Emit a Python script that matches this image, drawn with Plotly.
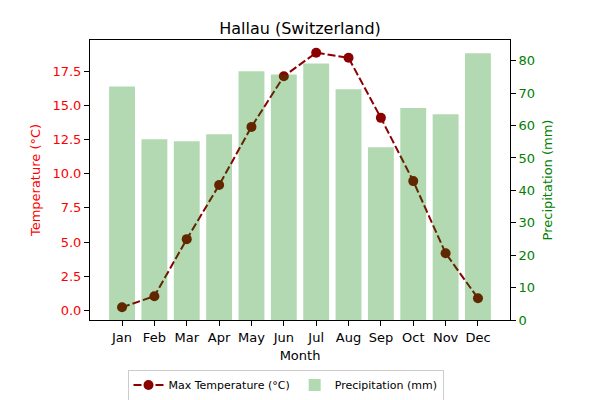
import plotly.graph_objects as go

months = ["Jan", "Feb", "Mar", "Apr", "May", "Jun",
          "Jul", "Aug", "Sep", "Oct", "Nov", "Dec"]
max_temp = [0.22, 1.03, 5.21, 9.17, 13.43, 17.14,
            18.86, 18.49, 14.09, 9.46, 4.18, 0.88]
precip = [72.1, 55.8, 55.2, 57.3, 76.8, 75.8,
          79.2, 71.2, 53.3, 65.4, 63.5, 82.3]

temp_ticks = [0, 2.5, 5, 7.5, 10, 12.5, 15, 17.5]
precip_ticks = [0, 10, 20, 30, 40, 50, 60, 70, 80]

RED = "red"
GREEN = "green"
FONT = "DejaVu Sans"

fig = go.Figure()

# temperature line (left axis)
fig.add_trace(go.Scatter(
    x=list(range(len(months))),
    y=max_temp,
    mode="lines+markers",
    name="Max Temperature (°C)",
    line=dict(color="darkred", width=2, dash="8px,3px"),
    marker=dict(color="darkred", size=10),
    yaxis="y"
))

# precipitation bars on the twin axis, drawn over the line
fig.add_trace(go.Bar(
    x=list(range(len(months))),
    y=precip,
    name="Precipitation (mm)",
    marker=dict(color="rgba(0,128,0,0.3)", line=dict(width=0)),
    width=0.8,
    yaxis="y2"
))

t_min, t_max = min(max_temp), max(max_temp)
t_pad = (t_max - t_min) * 0.05
n = len(months)
x_pad = (n - 1 + 0.8) * 0.05

# page seems to sit 8px in from the top-left corner, so margins are shifted
fig.update_layout(
    width=600,
    height=400,
    margin=dict(l=82, r=98, t=32, b=88),
    paper_bgcolor="white",
    plot_bgcolor="white",
    font=dict(family=FONT, size=13, color="black"),
    title=dict(text="Hallau (Switzerland)", x=0.5, xanchor="center",
               xref="paper", yref="paper",
               y=1, yanchor="bottom", pad=dict(b=6), automargin=False,
               font=dict(size=16, color="black")),
    showlegend=True,
    legend=dict(orientation="h", xref="container", yref="container",
                x=277.5 / 600, xanchor="center", y=1 - 377 / 400, yanchor="middle",
                bordercolor="#cccccc", borderwidth=1, font=dict(size=11),
                bgcolor="white", traceorder="normal"),
    xaxis=dict(
        range=[-0.4 - x_pad, n - 1 + 0.4 + x_pad],
        tickmode="array",
        tickvals=list(range(n)),
        ticktext=months,
        ticks="outside", ticklen=5, tickcolor="black",
        showline=True, linecolor="black", linewidth=1, mirror=True,
        showgrid=False, zeroline=False, automargin=False,
        title=dict(text="Month", standoff=7, font=dict(size=13)),
    ),
    yaxis=dict(
        range=[t_min - t_pad, t_max + t_pad],
        tickmode="array",
        tickvals=temp_ticks,
        tickformat=".1f",
        ticks="outside", ticklen=5, tickcolor="black",
        tickfont=dict(color=RED),
        showline=True, linecolor="black", linewidth=1,
        showgrid=False, zeroline=False, automargin=False,
        title=dict(text="Temperature (°C)", font=dict(color=RED, size=13), standoff=8),
    ),
    yaxis2=dict(
        overlaying="y",
        side="right",
        range=[0, max(precip) * 1.05],
        tickmode="array",
        tickvals=precip_ticks,
        ticks="outside", ticklen=5, tickcolor="black",
        tickfont=dict(color=GREEN),
        showline=True, linecolor="black", linewidth=1,
        showgrid=False, zeroline=False, automargin=False,
        title=dict(text="Precipitation (mm)", font=dict(color=GREEN, size=13), standoff=8),
    ),
)

fig.write_html("out.html")
